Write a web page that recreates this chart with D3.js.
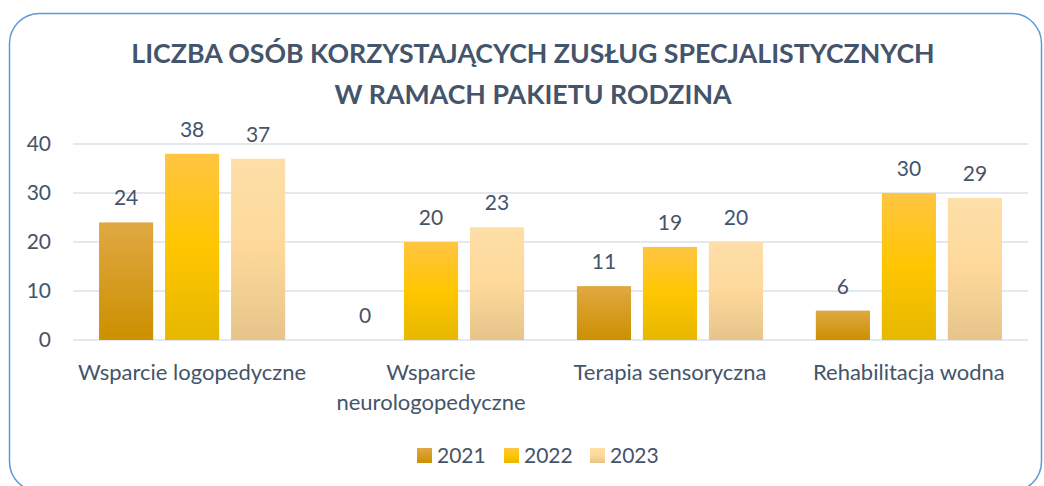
<!DOCTYPE html>
<html>
<head>
<meta charset="utf-8">
<script src="https://cdn.jsdelivr.net/npm/d3@7"></script>
<style>
  body { margin: 0; background: #fff; }
  text { font-family: "Lato", "Open Sans", sans-serif; fill: #44546a; }
</style>
</head>
<body>
<div id="chart"></div>
<script>
// data
const categories = ["Wsparcie logopedyczne", "Wsparcie neurologopedyczne", "Terapia sensoryczna", "Rehabilitacja wodna"];
const categoryLines = [["Wsparcie logopedyczne"], ["Wsparcie", "neurologopedyczne"], ["Terapia sensoryczna"], ["Rehabilitacja wodna"]];
const years = ["2021", "2022", "2023"];
const values2021 = [24, 0, 11, 6];
const values2022 = [38, 20, 19, 30];
const values2023 = [37, 23, 20, 29];
const yTicks = [0, 10, 20, 30, 40];
const titleLines = ["LICZBA OSÓB KORZYSTAJĄCYCH ZUSŁUG SPECJALISTYCZNYCH", "W RAMACH PAKIETU RODZINA"];

const series = [values2021, values2022, values2023];
const width = 1044, height = 486;
const margin = { top: 144, right: 16, bottom: 146, left: 73 };
const fs = "21px";

const svg = d3.select("#chart").append("svg")
  .attr("width", width)
  .attr("height", height);

// gradients per series
const defs = svg.append("defs");
const gradStops = [
  [["0%", "#e0a843"], ["100%", "#cc9000"]],
  [["0%", "#ffc543"], ["50%", "#ffc600"], ["100%", "#e6b800"]],
  [["0%", "#fedfa8"], ["50%", "#fdd89a"], ["100%", "#e6c48a"]]
];
gradStops.forEach((stops, i) => {
  const g = defs.append("linearGradient")
    .attr("id", "grad" + i)
    .attr("x1", 0).attr("y1", 0).attr("x2", 0).attr("y2", 1);
  stops.forEach(s => g.append("stop").attr("offset", s[0]).attr("stop-color", s[1]));
});

// frame
svg.append("rect")
  .attr("x", 9.5).attr("y", 13.5)
  .attr("width", 1032).attr("height", 478)
  .attr("rx", 30)
  .attr("fill", "none")
  .attr("stroke", "#5b9bd5")
  .attr("stroke-width", 1.5);

// title
svg.append("g").selectAll("text")
  .data(titleLines)
  .join("text")
  .attr("x", 533)
  .attr("y", (d, i) => 63 + i * 41)
  .attr("text-anchor", "middle")
  .attr("font-size", "26.7px")
  .attr("font-weight", "bold")
  .text(d => d);

const x0 = d3.scaleBand()
  .domain(d3.range(categories.length))
  .range([margin.left, width - margin.right])
  .paddingInner(0.221)
  .paddingOuter(0.109);

const x1 = d3.scaleBand()
  .domain(d3.range(years.length))
  .range([0, x0.bandwidth()])
  .paddingInner(0.18)
  .paddingOuter(0);

const y = d3.scaleLinear()
  .domain([0, 40])
  .range([height - margin.bottom, margin.top]);

// gridlines
svg.append("g")
  .selectAll("line")
  .data(yTicks)
  .join("line")
  .attr("x1", margin.left)
  .attr("x2", width - margin.right)
  .attr("y1", d => y(d))
  .attr("y2", d => y(d))
  .attr("stroke", "#dde1e7")
  .attr("stroke-width", 1.5);

// y axis labels
const yAxis = svg.append("g")
  .attr("transform", `translate(${margin.left - 22},0)`)
  .call(d3.axisLeft(y).tickValues(yTicks).tickSize(0).tickPadding(0));
yAxis.select(".domain").remove();
yAxis.selectAll("text")
  .attr("font-size", fs)
  .attr("fill", "#44546a")
  .attr("font-family", "Lato, sans-serif");

// bars
const groups = svg.append("g")
  .selectAll("g")
  .data(categories)
  .join("g")
  .attr("transform", (d, i) => `translate(${x0(i)},0)`);

groups.selectAll("rect")
  .data((d, i) => series.map((s, j) => ({ j, v: s[i] })))
  .join("rect")
  .attr("x", d => x1(d.j))
  .attr("y", d => y(d.v))
  .attr("width", x1.bandwidth())
  .attr("height", d => y(0) - y(d.v))
  .attr("fill", d => `url(#grad${d.j})`);

groups.selectAll("text.val")
  .data((d, i) => series.map((s, j) => ({ j, v: s[i] })))
  .join("text")
  .attr("class", "val")
  .attr("x", d => x1(d.j) + x1.bandwidth() / 2)
  .attr("y", d => y(d.v) - 17)
  .attr("text-anchor", "middle")
  .attr("font-size", fs)
  .text(d => d.v);

// category labels
const catLabels = svg.append("g")
  .selectAll("text")
  .data(categoryLines)
  .join("text")
  .attr("x", (d, i) => x0(i) + x0.bandwidth() / 2)
  .attr("y", 380)
  .attr("text-anchor", "middle")
  .attr("font-size", "22px");
catLabels.selectAll("tspan")
  .data(d => d)
  .join("tspan")
  .attr("x", function () { return this.parentNode.getAttribute("x"); })
  .attr("dy", (d, i) => i === 0 ? 0 : 30)
  .text(d => d);

// legend
const legendX = [417, 504, 590];
const legend = svg.append("g")
  .selectAll("g")
  .data(years)
  .join("g")
  .attr("transform", (d, i) => `translate(${legendX[i]},448)`);
legend.append("rect")
  .attr("width", 15).attr("height", 15)
  .attr("fill", (d, i) => `url(#grad${i})`);
legend.append("text")
  .attr("x", 20).attr("y", 15)
  .attr("font-size", fs)
  .text(d => d);
</script>
</body>
</html>
